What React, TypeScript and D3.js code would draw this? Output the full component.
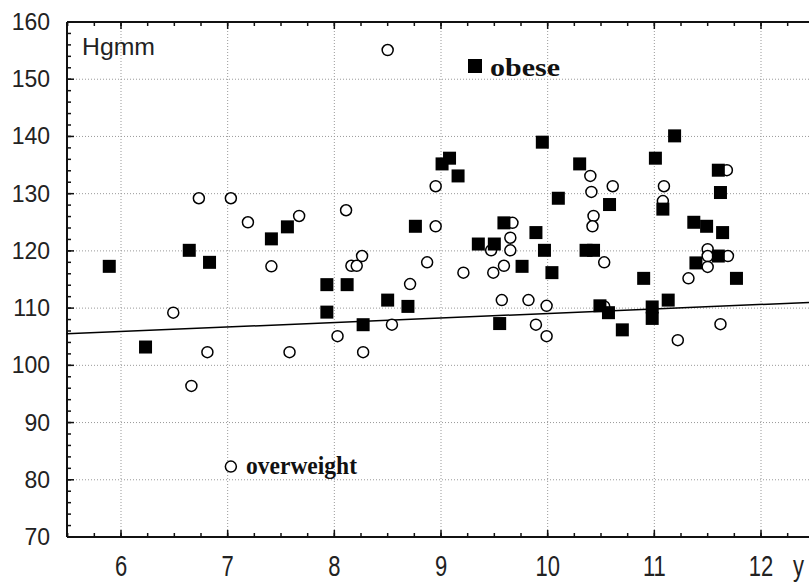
import React from "react";
import * as d3 from "d3";

// Data (age in years, blood pressure Hgmm)
const obeseX = [5.89, 6.23, 6.64, 6.83, 7.41, 7.56, 7.93, 8.12, 7.93, 8.27, 8.50, 8.69, 8.76, 9.01, 9.08, 9.16, 9.35, 9.50, 9.59, 9.76, 9.55, 9.89, 9.97, 9.95, 10.04, 10.30, 10.10, 10.58, 10.36, 10.43, 10.49, 10.57, 10.70, 10.90, 11.01, 11.19, 11.08, 10.98, 10.98, 11.13, 11.37, 11.49, 11.64, 11.60, 11.62, 11.39, 11.60, 11.77];
const obeseY = [117.3, 103.2, 120.1, 118.0, 122.1, 124.2, 114.1, 114.1, 109.3, 107.1, 111.4, 110.3, 124.3, 135.2, 136.2, 133.1, 121.2, 121.2, 124.9, 117.3, 107.3, 123.2, 120.1, 139.0, 116.2, 135.2, 129.2, 128.1, 120.1, 120.1, 110.4, 109.2, 106.2, 115.2, 136.2, 140.1, 127.3, 110.2, 108.2, 111.4, 125.0, 124.3, 123.2, 134.1, 130.2, 117.9, 119.1, 115.2];

const overX = [6.73, 7.03, 7.19, 7.67, 7.41, 6.49, 6.81, 7.58, 6.66, 8.11, 8.03, 8.27, 8.26, 8.16, 8.21, 8.54, 8.71, 8.87, 8.95, 8.95, 8.50, 9.21, 9.47, 9.49, 9.59, 9.67, 9.65, 9.65, 9.57, 9.82, 9.89, 9.99, 9.99, 10.40, 10.41, 10.61, 10.43, 10.42, 10.53, 10.53, 11.09, 11.08, 11.22, 11.32, 11.68, 11.50, 11.50, 11.50, 11.69, 11.62];
const overY = [129.2, 129.2, 125.0, 126.1, 117.3, 109.2, 102.3, 102.3, 96.4, 127.1, 105.1, 102.3, 119.1, 117.4, 117.4, 107.1, 114.2, 118.0, 131.3, 124.3, 155.1, 116.2, 120.1, 116.2, 117.4, 124.9, 122.3, 120.1, 111.4, 111.4, 107.1, 105.1, 110.4, 133.1, 130.3, 131.3, 126.1, 124.3, 118.0, 110.3, 131.3, 128.7, 104.4, 115.2, 134.1, 120.3, 119.1, 117.2, 119.1, 107.2];

const fitX = [5.49, 12.45];
const fitY = [105.5, 111.0];

const xTicks = [6, 7, 8, 9, 10, 11, 12];
const yTicks = [70, 80, 90, 100, 110, 120, 130, 140, 150, 160];

export default function App() {
  const W = 809, H = 587;
  const left = 67, top = 22, bottom = 537, right = 815;
  const x = d3.scaleLinear().domain([6, 12]).range([121, 761]);
  const y = d3.scaleLinear().domain([70, 160]).range([bottom, top]);
  const xMin = x.invert(left), xMax = x.invert(right);

  const xMinor = d3.range(Math.ceil(xMin * 4) / 4, xMax, 0.25);
  const yMinor = d3.range(70, 160.01, 2);

  const line = d3.line<number>().x((d) => x(fitX[d])).y((d) => y(fitY[d]));

  const tickFont = "'Liberation Sans', Arial, sans-serif";
  const serif = "'Liberation Serif', 'Times New Roman', serif";
  const tickColor = "#222";
  const sq = 13;
  return (
    <svg width={W} height={H} style={{ position: "absolute", left: 0, top: 0, background: "#fff" }}>
      {/* grid */}
      {xTicks.map((t) => (
        <line key={"gx" + t} x1={x(t)} x2={x(t)} y1={top} y2={bottom} stroke="#999" strokeWidth={1} strokeDasharray="1,2" />
      ))}
      {yTicks.map((t) => (
        <line key={"gy" + t} x1={left} x2={W} y1={y(t)} y2={y(t)} stroke="#999" strokeWidth={1} strokeDasharray="1,2" />
      ))}
      {/* frame */}
      <line x1={left} x2={W} y1={top} y2={top} stroke="#111" strokeWidth={2} />
      <line x1={left} x2={W} y1={bottom} y2={bottom} stroke="#111" strokeWidth={2} />
      <line x1={left} x2={left} y1={top} y2={bottom} stroke="#111" strokeWidth={2} />
      {/* minor ticks */}
      {xMinor.map((t, i) => (
        <g key={"xm" + i}>
          <line x1={x(t)} x2={x(t)} y1={bottom} y2={bottom - 4} stroke="#111" strokeWidth={1.5} />
          <line x1={x(t)} x2={x(t)} y1={top} y2={top + 4} stroke="#111" strokeWidth={1.5} />
        </g>
      ))}
      {xTicks.map((t) => (
        <g key={"xM" + t}>
          <line x1={x(t)} x2={x(t)} y1={bottom} y2={bottom - 7} stroke="#111" strokeWidth={1.5} />
          <line x1={x(t)} x2={x(t)} y1={top} y2={top + 7} stroke="#111" strokeWidth={1.5} />
          <text transform={`translate(${x(t)},576) scale(1,1.3)`} textAnchor="middle" fontFamily={tickFont} fontSize={22} fill={tickColor}>{t}</text>
        </g>
      ))}
      {yMinor.map((t, i) => (
        <line key={"ym" + i} x1={left} x2={left + 4} y1={y(t)} y2={y(t)} stroke="#111" strokeWidth={1.5} />
      ))}
      {yTicks.map((t) => (
        <g key={"yM" + t}>
          <line x1={left} x2={left + 7} y1={y(t)} y2={y(t)} stroke="#111" strokeWidth={1.5} />
          <text x={50} y={y(t) + 8} textAnchor="end" fontFamily={tickFont} fontSize={23} fill={tickColor}>{t}</text>
        </g>
      ))}
      <text transform="translate(793,576) scale(1,1.3)" fontFamily={tickFont} fontSize={22} fill={tickColor}>y</text>
      <text x={82} y={55} fontFamily={tickFont} fontSize={24} fill={tickColor} textLength={73} lengthAdjust="spacingAndGlyphs">Hgmm</text>

      {/* regression line */}
      <path d={line([0, 1]) || ""} fill="none" stroke="#000" strokeWidth={1.5} />

      {/* overweight circles */}
      {overX.map((vx, i) => (
        <circle key={"o" + i} cx={x(vx)} cy={y(overY[i])} r={5.5} fill="#fff" stroke="#000" strokeWidth={1.5} />
      ))}
      {/* obese squares */}
      {obeseX.map((vx, i) => (
        <rect key={"s" + i} x={x(vx) - sq / 2} y={y(obeseY[i]) - sq / 2} width={sq} height={sq} fill="#000" />
      ))}

      {/* legend labels */}
      <rect x={468} y={59} width={14} height={14} fill="#000" />
      <text x={490} y={76} fontFamily={serif} fontWeight="bold" fontSize={26} fill="#111" textLength={70} lengthAdjust="spacingAndGlyphs">obese</text>
      <circle cx={x(7.03)} cy={y(82.3)} r={5.5} fill="#fff" stroke="#000" strokeWidth={1.5} />
      <text x={246} y={474} fontFamily={serif} fontWeight="bold" fontSize={25} fill="#111" textLength={111} lengthAdjust="spacingAndGlyphs">overweight</text>
    </svg>
  );
}
